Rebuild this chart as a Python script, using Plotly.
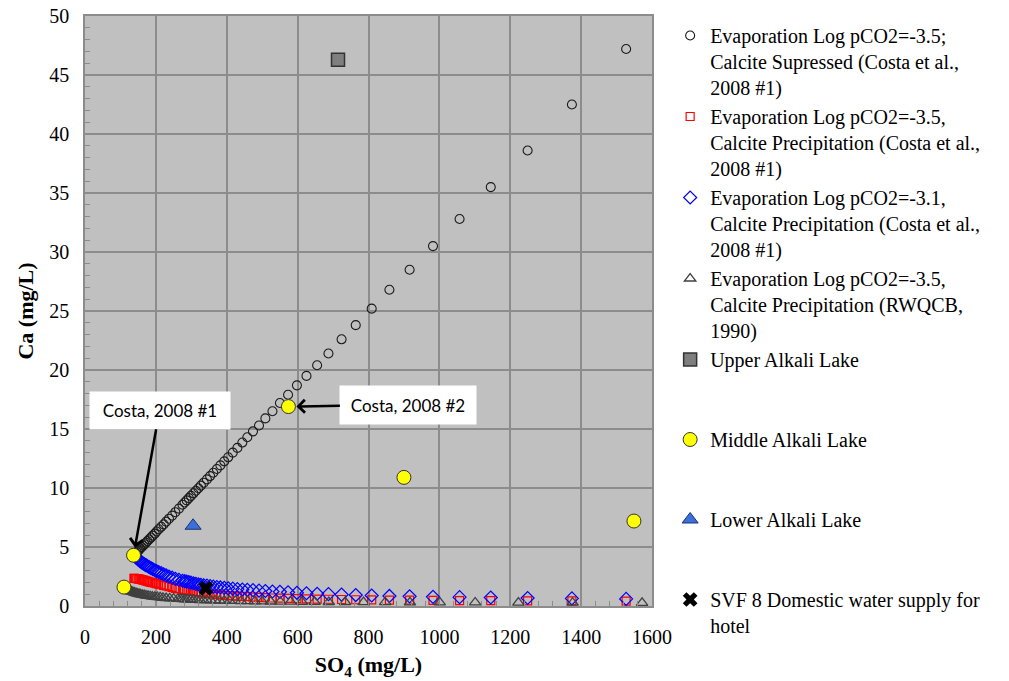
import plotly.graph_objects as go

# Evaporation path of Costa et al. (2008) #1 water: SO4 is conservative, shared by three runs
so4_costa = [138, 140, 143, 146, 150, 153, 156, 160, 164, 168, 172, 176, 181, 186, 191, 197,
             202, 208, 215, 222, 229, 237, 246, 255, 265, 275, 281, 287, 293, 299, 306, 313,
             320, 327, 335, 344, 353, 362, 372, 382, 393, 404, 417, 430, 444, 458, 474, 491,
             509, 529, 550, 573, 598, 625, 655, 687, 724, 764, 809, 859, 916, 982, 1057, 1145,
             1249, 1374, 1527]

ca_suppressed = [4.30, 4.37, 4.46, 4.56, 4.66, 4.77, 4.88, 4.99, 5.11, 5.23, 5.36, 5.50, 5.65,
                 5.80, 5.96, 6.13, 6.31, 6.50, 6.71, 6.92, 7.15, 7.40, 7.66, 7.95, 8.25, 8.58,
                 8.77, 8.95, 9.14, 9.33, 9.55, 9.77, 9.98, 10.2, 10.45, 10.73, 11.01, 11.29,
                 11.61, 11.92, 12.26, 12.6, 13.0, 13.4, 13.85, 14.3, 14.8, 15.3, 15.9, 16.5,
                 17.2, 17.9, 18.7, 19.5, 20.4, 21.4, 22.6, 23.8, 25.2, 26.8, 28.5, 30.5, 32.8,
                 35.5, 38.6, 42.5, 47.2]

ca_precip_35 = [2.35, 2.34, 2.33, 2.32, 2.30, 2.28, 2.26, 2.23, 2.20, 2.17, 2.13, 2.09, 2.05,
                2.01, 1.98, 1.94, 1.90, 1.85, 1.80, 1.75, 1.70, 1.64, 1.57, 1.50, 1.44, 1.38,
                1.35, 1.32, 1.29, 1.26, 1.23, 1.20, 1.17, 1.14, 1.10, 1.07, 1.04, 1.01, 0.98,
                0.95, 0.92, 0.89, 0.86, 0.83, 0.81, 0.79, 0.76, 0.73, 0.71, 0.68, 0.66, 0.64,
                0.62, 0.60, 0.59, 0.57, 0.55, 0.53, 0.52, 0.50, 0.49, 0.47, 0.46, 0.45, 0.44,
                0.43, 0.42]

ca_precip_31 = [4.30, 4.24, 4.15, 4.06, 3.95, 3.87, 3.79, 3.70, 3.60, 3.53, 3.46, 3.39, 3.30,
                3.21, 3.13, 3.03, 2.95, 2.87, 2.78, 2.69, 2.60, 2.50, 2.40, 2.30, 2.22, 2.14,
                2.10, 2.06, 2.02, 1.98, 1.93, 1.88, 1.84, 1.80, 1.76, 1.72, 1.68, 1.64, 1.60,
                1.57, 1.54, 1.50, 1.47, 1.43, 1.40, 1.37, 1.34, 1.30, 1.27, 1.23, 1.20, 1.16,
                1.12, 1.08, 1.04, 1.01, 0.97, 0.93, 0.89, 0.85, 0.82, 0.78, 0.75, 0.72, 0.68,
                0.64, 0.60]

# Evaporation path starting from the RWQCB (1990) water
so4_rwqcb = [110, 112, 115, 117, 120, 122, 125, 128, 131, 134, 138, 141, 145, 149, 153, 157,
             162, 167, 172, 178, 184, 190, 197, 204, 212, 220, 229, 239, 250, 262, 269, 275,
             282, 290, 298, 306, 315, 324, 334, 344, 355, 367, 380, 393, 408, 424, 440, 459,
             479, 500, 524, 551, 580, 612, 648, 688, 734, 786, 847, 917, 1001, 1101, 1223,
             1376, 1572]
ca_rwqcb = [1.55, 1.50, 1.45, 1.41, 1.37, 1.34, 1.30, 1.26, 1.22, 1.19, 1.15, 1.12, 1.08, 1.05,
            1.01, 0.98, 0.95, 0.92, 0.89, 0.86, 0.83, 0.80, 0.78, 0.75, 0.73, 0.70, 0.68, 0.65,
            0.63, 0.61, 0.60, 0.58, 0.57, 0.56, 0.55, 0.53, 0.52, 0.51, 0.50, 0.49, 0.48, 0.47,
            0.46, 0.45, 0.44, 0.43, 0.42, 0.41, 0.40, 0.39, 0.38, 0.37, 0.37, 0.36, 0.35, 0.34,
            0.34, 0.33, 0.32, 0.31, 0.31, 0.30, 0.29, 0.28, 0.27]

# Lake samples
upper_so4 = [714]
upper_ca = [46.3]
middle_so4 = [110, 137, 574, 900, 1549]
middle_ca = [1.6, 4.3, 16.9, 10.9, 7.2]
lower_so4 = [305]
lower_ca = [6.8]
svf_so4 = [341]
svf_ca = [1.5]

legend_names = [
    "Evaporation Log pCO2=-3.5;<br>Calcite Supressed (Costa et al.,<br>2008 #1)",
    "Evaporation Log pCO2=-3.5,<br>Calcite Precipitation (Costa et al.,<br>2008 #1)",
    "Evaporation Log pCO2=-3.1,<br>Calcite Precipitation (Costa et al.,<br>2008 #1)",
    "Evaporation Log pCO2=-3.5,<br>Calcite Precipitation (RWQCB,<br>1990)",
    "Upper Alkali Lake",
    "Middle Alkali Lake",
    "Lower Alkali Lake",
    "SVF 8 Domestic water supply for<br>hotel",
]
# Legend groups: the single-line entries sit in their own groups so the
# group gap spaces them like the three-line entries above
legend_groups = ["a", "a", "a", "a", "a", "b", "c", "d"]

SERIF = "Liberation Serif, Times New Roman, serif"

fig = go.Figure()

fig.add_trace(go.Scatter(
    x=so4_costa, y=ca_suppressed, mode="markers", name=legend_names[0],
    legendgroup=legend_groups[0],
    marker=dict(symbol="circle-open", size=9, color="#1a1a1a", line=dict(width=1.1))))
fig.add_trace(go.Scatter(
    x=so4_costa, y=ca_precip_35, mode="markers", name=legend_names[1],
    legendgroup=legend_groups[1],
    marker=dict(symbol="square-open", size=8, color="#ff0000", line=dict(width=1.2))))
fig.add_trace(go.Scatter(
    x=so4_costa, y=ca_precip_31, mode="markers", name=legend_names[2],
    legendgroup=legend_groups[2],
    marker=dict(symbol="diamond-open", size=10, color="#0000ff", line=dict(width=1.2))))
fig.add_trace(go.Scatter(
    x=so4_rwqcb, y=ca_rwqcb, mode="markers", name=legend_names[3],
    legendgroup=legend_groups[3],
    marker=dict(symbol="triangle-up-open", size=10, color="#404040", line=dict(width=1.3))))
fig.add_trace(go.Scatter(
    x=upper_so4, y=upper_ca, mode="markers", name=legend_names[4],
    legendgroup=legend_groups[4],
    marker=dict(symbol="square", size=13, color="#7f7f7f",
                line=dict(color="#333333", width=1.5))))
fig.add_trace(go.Scatter(
    x=middle_so4, y=middle_ca, mode="markers", name=legend_names[5],
    legendgroup=legend_groups[5],
    marker=dict(symbol="circle", size=14, color="#ffff00",
                line=dict(color="#333333", width=1))))
fig.add_trace(go.Scatter(
    x=lower_so4, y=lower_ca, mode="markers", name=legend_names[6],
    legendgroup=legend_groups[6],
    marker=dict(symbol="triangle-up", size=14, color="#3a6fdc",
                line=dict(color="#1c3570", width=1))))
fig.add_trace(go.Scatter(
    x=svf_so4, y=svf_ca, mode="markers", name=legend_names[7],
    legendgroup=legend_groups[7],
    marker=dict(symbol="x", size=13, color="#000000", line=dict(width=0))))

# Callouts for the two Costa et al. (2008) samples
callout = dict(showarrow=True, arrowhead=4, arrowsize=1, arrowwidth=2.5, arrowcolor="#000000",
               bgcolor="#ffffff", font=dict(family="Lato, Carlito, sans-serif", size=17,
                                            color="#000000"),
               xref="x", yref="y", axref="pixel", ayref="pixel", standoff=8)
fig.add_annotation(x=middle_so4[1], y=middle_ca[1], text="Costa, 2008 #1",
                   ax=26, ay=-145, width=138, height=35, **callout)
fig.add_annotation(x=middle_so4[2], y=middle_ca[2], text="Costa, 2008 #2",
                   ax=120, ay=-2, width=134, height=36, **callout)

axis_common = dict(
    showgrid=True, gridcolor="#8c8c8c", gridwidth=1.5,
    showline=True, linecolor="#8c8c8c", linewidth=1.5, mirror=True,
    ticks="inside", ticklen=5, tickcolor="#8c8c8c",
    tickfont=dict(family=SERIF, size=20, color="#000000"),
    zeroline=False,
)

fig.update_xaxes(
    range=[0, 1600], dtick=200, tick0=0,
    minor=dict(dtick=40, ticks="inside", ticklen=5, tickcolor="#8c8c8c", showgrid=False),
    title=dict(text="<b>SO<sub>4</sub> (mg/L)</b>", font=dict(family=SERIF, size=22,
                                                             color="#000000"), standoff=10),
    ticklabelstandoff=12,
    **axis_common)
fig.update_yaxes(
    range=[0, 50], dtick=5, tick0=0,
    minor=dict(dtick=1, ticks="inside", ticklen=5, tickcolor="#8c8c8c", showgrid=False),
    title=dict(text="<b>Ca (mg/L)</b>", font=dict(family=SERIF, size=22, color="#000000"),
               standoff=10),
    ticklabelstandoff=10,
    **axis_common)

fig.update_layout(
    width=1009, height=681,
    margin=dict(l=85, r=357, t=16, b=75, autoexpand=False),
    paper_bgcolor="#ffffff", plot_bgcolor="#c0c0c0",
    legend=dict(x=1.032, xanchor="left", y=1.0, yanchor="top", valign="top",
                font=dict(family=SERIF, size=20, color="#000000"),
                itemwidth=30, tracegroupgap=51, traceorder="grouped",
                bgcolor="rgba(0,0,0,0)", maxheight=675),
)

fig.write_html("out.html")
